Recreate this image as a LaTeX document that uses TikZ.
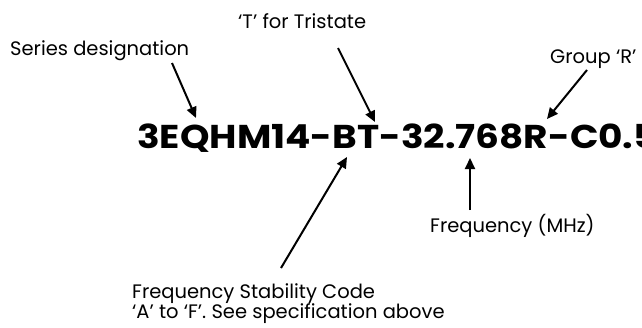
\documentclass[tikz,border=0pt]{standalone}
\usepackage{fontspec}
\setmainfont{Poppins}
\usetikzlibrary{arrows.meta}
\tikzset{
  lbl/.style={anchor=base west, inner sep=0pt, font=\fontsize{19.5}{20}\selectfont},
  code/.style={anchor=base west, inner sep=0pt, font=\fontsize{33}{36}\selectfont\bfseries},
  pointer/.style={line width=2pt, -{Triangle[length=11pt,width=10pt]}}
}
\begin{document}
\begin{tikzpicture}[x=1pt,y=-1pt]
  \clip (0,0) rectangle (642,327);
  \fill[white] (0,0) rectangle (642,327);
  \node[code] (pn) at (137,148) {\scalebox{1.135}[1]{3EQHM14-BT-32.768R-C0.5}};
  \node[lbl] (series) at (10,55) {Series designation};
  \node[lbl] (tri) at (238,28) {‘T’ for Tristate};
  \node[lbl] (grp) at (550,63) {Group ‘R’};
  \node[lbl] (freq) at (430,232) {Frequency (MHz)};
  \node[lbl, align=left, anchor=north west] (stab) at (132,283) {Frequency Stability Code\\‘A’ to ‘F’. See specification above};
  \coordinate (s0) at (172,63);  \coordinate (s1) at (196,118);
  \coordinate (t0) at (338,48);  \coordinate (t1) at (375,122);
  \coordinate (g0) at (587,70);  \coordinate (g1) at (547,119);
  \coordinate (f0) at (470,210); \coordinate (f1) at (470,158);
  \coordinate (c0) at (281,268); \coordinate (c1) at (347,157);
  \draw[pointer] (s0) -- (s1);
  \draw[pointer] (t0) -- (t1);
  \draw[pointer] (g0) -- (g1);
  \draw[pointer] (f0) -- (f1);
  \draw[pointer] (c0) -- (c1);
\end{tikzpicture}
\end{document}
